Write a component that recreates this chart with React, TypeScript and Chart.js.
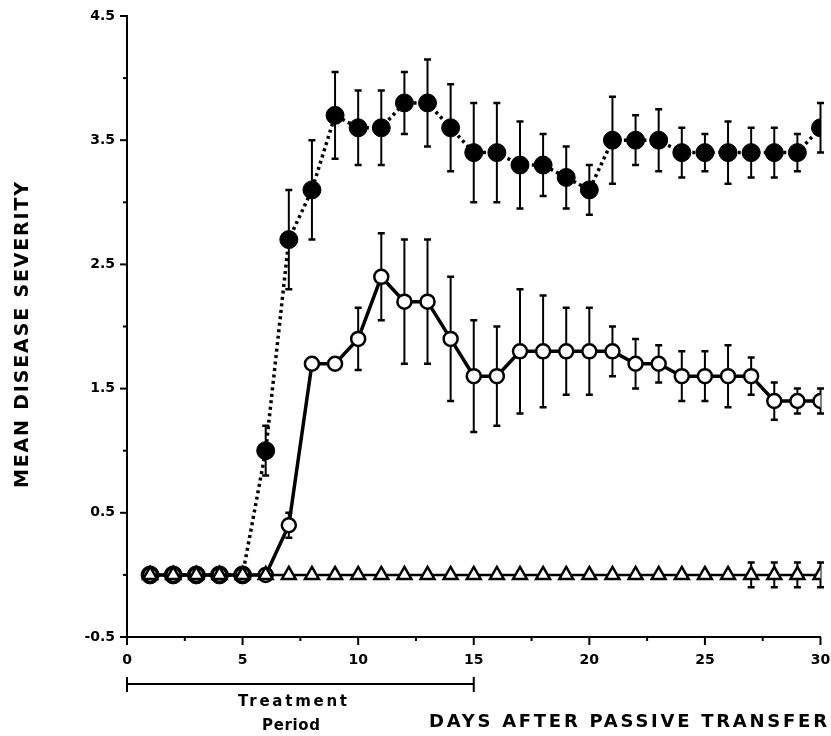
import React, { useEffect, useRef } from "react";
import { Chart, registerables } from "chart.js";

Chart.register(...registerables);

// ---- Data ----
const days = [
  1, 2, 3, 4, 5, 6, 7, 8, 9, 10, 11, 12, 13, 14, 15, 16, 17, 18, 19, 20, 21,
  22, 23, 24, 25, 26, 27, 28, 29, 30,
];

// filled circles, dotted line
const filledMeans = [
  0, 0, 0, 0, 0, 1.0, 2.7, 3.1, 3.7, 3.6, 3.6, 3.8, 3.8, 3.6, 3.4, 3.4, 3.3,
  3.3, 3.2, 3.1, 3.5, 3.5, 3.5, 3.4, 3.4, 3.4, 3.4, 3.4, 3.4, 3.6,
];
const filledSem = [
  0, 0, 0, 0, 0, 0.2, 0.4, 0.4, 0.35, 0.3, 0.3, 0.25, 0.35, 0.35, 0.4, 0.4,
  0.35, 0.25, 0.25, 0.2, 0.35, 0.2, 0.25, 0.2, 0.15, 0.25, 0.2, 0.2, 0.15, 0.2,
];

// open circles, solid line
const openMeans = [
  0, 0, 0, 0, 0, 0, 0.4, 1.7, 1.7, 1.9, 2.4, 2.2, 2.2, 1.9, 1.6, 1.6, 1.8, 1.8,
  1.8, 1.8, 1.8, 1.7, 1.7, 1.6, 1.6, 1.6, 1.6, 1.4, 1.4, 1.4,
];
const openSem = [
  0, 0, 0, 0, 0, 0, 0.1, 0, 0, 0.25, 0.35, 0.5, 0.5, 0.5, 0.45, 0.4, 0.5, 0.45,
  0.35, 0.35, 0.2, 0.2, 0.15, 0.2, 0.2, 0.25, 0.15, 0.15, 0.1, 0.1,
];

// open triangles, solid line
const triangleMeans = [
  0, 0, 0, 0, 0, 0, 0, 0, 0, 0, 0, 0, 0, 0, 0, 0, 0, 0, 0, 0, 0, 0, 0, 0, 0, 0,
  0, 0, 0, 0,
];
const triangleSem = [
  0, 0, 0, 0, 0, 0, 0, 0, 0, 0, 0, 0, 0, 0, 0, 0, 0, 0, 0, 0, 0, 0, 0, 0, 0, 0,
  0.1, 0.1, 0.1, 0.1,
];

const xMin = 0;
const xMax = 30;
const xStep = 2.5;
const xLabelEvery = 5;
const yMin = -0.5;
const yMax = 4.5;
const yStep = 0.5;
const yLabels = [-0.5, 0.5, 1.5, 2.5, 3.5, 4.5];

const treatmentStart = 0;
const treatmentEnd = 15;

const yTitle = "MEAN DISEASE SEVERITY";
const xTitle = "DAYS AFTER PASSIVE TRANSFER";
const treatmentLine1 = "Treatment";
const treatmentLine2 = "Period";

const FONT = "'DejaVu Sans', 'Liberation Sans', Arial, sans-serif";

const toPoints = (ys: number[]) => days.map((d, i) => ({ x: d, y: ys[i] }));

const isMajorX = (v: number) =>
  Math.abs(v / xLabelEvery - Math.round(v / xLabelEvery)) < 1e-6;
const isLabelY = (v: number) => yLabels.some((l) => Math.abs(l - v) < 1e-6);

const errorBarPlugin = {
  id: "errorBars",
  beforeDatasetDraw(chart: any, args: any) {
    const ds = chart.data.datasets[args.index] as any;
    const sem: number[] | undefined = ds.sem;
    if (!sem) return;
    const { ctx } = chart;
    const xs = chart.scales.x;
    const ys = chart.scales.y;
    ctx.save();
    ctx.strokeStyle = "#000";
    ctx.lineCap = "butt";
    ds.data.forEach((p: any, i: number) => {
      const e = sem[i];
      if (!e) return;
      const px = xs.getPixelForValue(p.x);
      const top = ys.getPixelForValue(p.y + e);
      const bot = ys.getPixelForValue(p.y - e);
      const cap = 3.5;
      ctx.lineWidth = 2;
      ctx.beginPath();
      ctx.moveTo(px, top);
      ctx.lineTo(px, bot);
      ctx.stroke();
      ctx.lineWidth = 2.5;
      ctx.beginPath();
      ctx.moveTo(px - cap, top);
      ctx.lineTo(px + cap, top);
      ctx.moveTo(px - cap, bot);
      ctx.lineTo(px + cap, bot);
      ctx.stroke();
    });
    ctx.restore();
  },
};

function spacedText(ctx: CanvasRenderingContext2D, text: string, width: number) {
  (ctx as any).letterSpacing = "0px";
  const w0 = ctx.measureText(text).width;
  const n = text.length;
  const sp = n > 1 ? (width - w0) / (n - 1) : 0;
  (ctx as any).letterSpacing = `${sp}px`;
  return sp;
}

const decorPlugin = {
  id: "decor",
  afterDraw(chart: any) {
    const { ctx } = chart;
    const xs = chart.scales.x;
    const ys = chart.scales.y;
    const area = chart.chartArea;
    ctx.save();
    ctx.strokeStyle = "#000";
    ctx.fillStyle = "#000";
    ctx.lineWidth = 2;
    // x tick marks
    xs.ticks.forEach((t: any) => {
      const px = xs.getPixelForValue(t.value);
      const len = isMajorX(t.value) ? 8 : 4;
      ctx.beginPath();
      ctx.moveTo(px, area.bottom);
      ctx.lineTo(px, area.bottom + len);
      ctx.stroke();
    });
    // y tick marks
    ys.ticks.forEach((t: any) => {
      const py = ys.getPixelForValue(t.value);
      const len = isLabelY(t.value) ? 7 : 4;
      ctx.beginPath();
      ctx.moveTo(area.left, py);
      ctx.lineTo(area.left - len, py);
      ctx.stroke();
    });

    // y title
    ctx.save();
    ctx.font = `bold 19px ${FONT}`;
    ctx.translate(23, 335);
    ctx.rotate(-Math.PI / 2);
    spacedText(ctx, yTitle, 306);
    ctx.textAlign = "left";
    ctx.textBaseline = "middle";
    ctx.fillText(yTitle, -153, 0);
    ctx.restore();

    // x title
    ctx.save();
    ctx.font = `bold 18px ${FONT}`;
    spacedText(ctx, xTitle, 398);
    ctx.textAlign = "left";
    ctx.textBaseline = "middle";
    ctx.fillText(xTitle, 429, 722);
    ctx.restore();

    // treatment bracket
    const x0 = xs.getPixelForValue(treatmentStart);
    const x1 = xs.getPixelForValue(treatmentEnd);
    const by = 684;
    ctx.lineWidth = 2;
    ctx.beginPath();
    ctx.moveTo(x0, by);
    ctx.lineTo(x1, by);
    ctx.moveTo(x0, by - 7);
    ctx.lineTo(x0, by + 8);
    ctx.moveTo(x1, by - 7);
    ctx.lineTo(x1, by + 8);
    ctx.stroke();

    ctx.save();
    ctx.font = `bold 15px ${FONT}`;
    ctx.textBaseline = "middle";
    ctx.textAlign = "left";
    spacedText(ctx, treatmentLine1, 109);
    ctx.fillText(treatmentLine1, 238, 702);
    spacedText(ctx, treatmentLine2, 58);
    ctx.fillText(treatmentLine2, 262, 726);
    ctx.restore();

    ctx.restore();
  },
};

export default function App() {
  const canvasRef = useRef<HTMLCanvasElement | null>(null);

  useEffect(() => {
    const canvas = canvasRef.current;
    if (!canvas) return;
    const chart = new Chart(canvas, {
      type: "line",
      data: {
        datasets: [
          {
            label: "triangles",
            data: toPoints(triangleMeans),
            sem: triangleSem,
            borderColor: "#000",
            borderWidth: 2.5,
            pointStyle: "triangle",
            pointRadius: 8,
            pointBorderWidth: 2.5,
            pointBackgroundColor: "#fff",
            pointBorderColor: "#000",
            tension: 0,
          } as any,
          {
            label: "open circles",
            data: toPoints(openMeans),
            sem: openSem,
            borderColor: "#000",
            borderWidth: 3.5,
            pointStyle: "circle",
            pointRadius: 7,
            pointBorderWidth: 2.5,
            pointBackgroundColor: "#fff",
            pointBorderColor: "#000",
            tension: 0,
          } as any,
          {
            label: "filled circles",
            data: toPoints(filledMeans),
            sem: filledSem,
            borderColor: "#000",
            borderWidth: 3.5,
            borderDash: [3, 3.5],
            pointStyle: "circle",
            pointRadius: 9,
            pointBorderWidth: 1,
            pointBackgroundColor: "#000",
            pointBorderColor: "#000",
            tension: 0,
          } as any,
        ],
      },
      options: {
        animation: false,
        responsive: false,
        maintainAspectRatio: false,
        layout: { padding: { top: 16, right: 9, left: 0, bottom: 0 } },
        plugins: {
          legend: { display: false },
          tooltip: { enabled: false },
        },
        scales: {
          x: {
            type: "linear",
            min: xMin,
            max: xMax,
            offset: false,
            grid: { display: false, drawTicks: false },
            border: { display: true, color: "#000", width: 2 },
            ticks: {
              stepSize: xStep,
              autoSkip: false,
              maxRotation: 0,
              padding: 15,
              color: "#000",
              font: { family: FONT, size: 14, weight: "bold" },
              callback: (v: any) =>
                isMajorX(Number(v)) ? String(Number(v)) : "",
            },
            afterFit: (scale: any) => {
              scale.height = 99;
              scale.paddingLeft = 0;
              scale.paddingRight = 0;
            },
          },
          y: {
            type: "linear",
            min: yMin,
            max: yMax,
            grid: { display: false, drawTicks: false },
            border: { display: true, color: "#000", width: 2 },
            ticks: {
              stepSize: yStep,
              autoSkip: false,
              padding: 12,
              color: "#000",
              font: { family: FONT, size: 14, weight: "bold" },
              callback: (v: any) =>
                isLabelY(Number(v)) ? Number(v).toFixed(1) : "",
            },
            afterFit: (scale: any) => {
              scale.width = 127;
              scale.paddingTop = 0;
              scale.paddingBottom = 0;
            },
          },
        },
      } as any,
      plugins: [errorBarPlugin, decorPlugin],
    });
    return () => chart.destroy();
  }, []);

  return (
    <div
      style={{
        position: "fixed",
        left: 0,
        top: 0,
        width: 831,
        height: 736,
        background: "#fff",
      }}
    >
      <canvas ref={canvasRef} width={831} height={736} />
    </div>
  );
}
